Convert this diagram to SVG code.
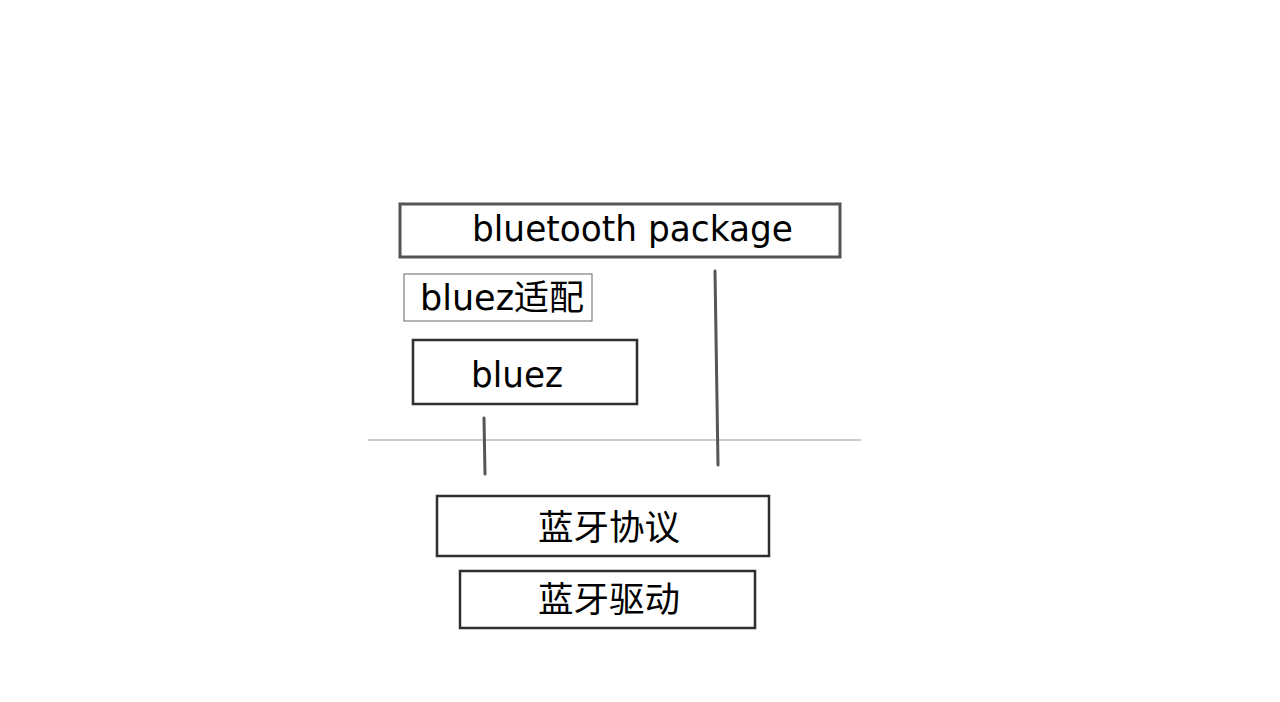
<svg xmlns="http://www.w3.org/2000/svg" width="1280" height="702" viewBox="0 0 1280 702">
<style>
.box{fill:#fff;stroke:#2e2e2e;stroke-width:2.5}
.thin{fill:#fff;stroke:#666;stroke-width:1}
.t{font-family:"DejaVu Sans","Noto Sans CJK SC",sans-serif;fill:#000}
.conn{stroke:#555;stroke-width:3;stroke-linecap:round;fill:none}
</style>
<rect width="1280" height="702" fill="#fff"/>
<g id="connectors">
<line x1="368" y1="440" x2="861" y2="440" stroke="#999" stroke-width="1"/>
<line class="conn" x1="484" y1="418" x2="485" y2="474"/>
<line class="conn" x1="715" y1="271" x2="718" y2="465"/>
</g>
<g id="bluetooth-package">
<rect class="box" x="400" y="204" width="440" height="53" style="stroke:#555;stroke-width:3"/>
<text class="t" x="472" y="241" font-size="35" textLength="321" lengthAdjust="spacingAndGlyphs">bluetooth package</text>
</g>
<g id="bluez-adapter">
<rect class="thin" x="404" y="274" width="188" height="47"/>
<text class="t" x="420" y="310" font-size="35" textLength="164" lengthAdjust="spacingAndGlyphs">bluez适配</text>
</g>
<g id="bluez">
<rect class="box" x="413" y="340" width="224" height="64"/>
<text class="t" x="471" y="387" font-size="35" textLength="92" lengthAdjust="spacingAndGlyphs">bluez</text>
</g>
<g id="bt-protocol">
<rect class="box" x="437" y="496" width="332" height="60"/>
<text class="t" x="538" y="540" font-size="35.5" textLength="142" lengthAdjust="spacingAndGlyphs">蓝牙协议</text>
</g>
<g id="bt-driver">
<rect class="box" x="460" y="571" width="295" height="57"/>
<text class="t" x="538" y="612" font-size="35.5" textLength="142" lengthAdjust="spacingAndGlyphs">蓝牙驱动</text>
</g>
</svg>
